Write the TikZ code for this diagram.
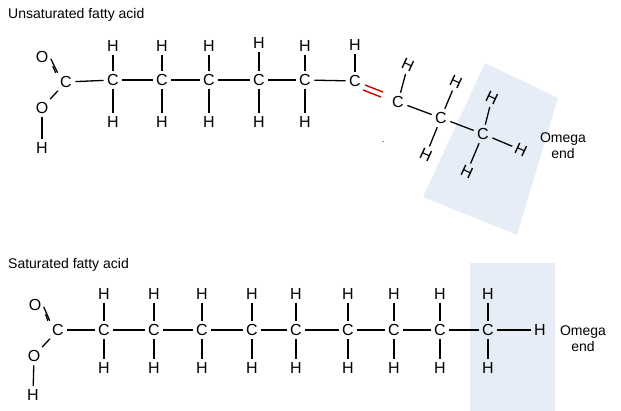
\documentclass[tikz,border=0pt]{standalone}
\usepackage{fontspec}
\setmainfont{Liberation Sans}
\definecolor{boxblue}{RGB}{231,237,246}
\begin{document}
\begin{tikzpicture}[x=1pt,y=-1pt,
  atom/.style={inner sep=1.5pt,font=\fontsize{16}{17}\selectfont},
  lbl/.style={inner sep=0pt,font=\fontsize{14}{16}\selectfont,align=center},
  bond/.style={line width=1.3pt,shorten >=2pt,shorten <=2pt}]
\useasboundingbox (0,0) rectangle (621,411);
\fill[boxblue] (423,197)--(485,63)--(558,98)--(517,235)--cycle;
\fill[boxblue] (470,263) rectangle (555,411);
\node[lbl,anchor=west] (t1) at (8,15) {Unsaturated fatty acid};
\node[lbl,anchor=west] (t2) at (8,265) {Saturated fatty acid};
% top molecule
\node[atom] (ca) at (66,82) {C};
\node[atom] (o1) at (42,57) {O};
\node[atom] (o2) at (42,108) {O};
\node[atom] (h0) at (42,148) {H};
\draw[bond] ([xshift=-2pt]ca.north west) -- ([xshift=2pt]o1.south east);
\draw[bond] (ca.north west) -- (o1.east);
\draw[bond] (ca) -- (o2);
\draw[bond] (o2) -- (h0);
\foreach \i/\x/\yt in {1/113/46,2/162/46,3/209/46,4/259/43,5/305/46}{
  \node[atom] (c\i) at (\x,80) {C};
  \node[atom] (ht\i) at (\x,\yt) {H};
  \node[atom] (hb\i) at (\x,122) {H};
  \draw[bond] (c\i) -- (ht\i);
  \draw[bond] (c\i) -- (hb\i);
}
\node[atom] (c6) at (355,81) {C};
\node[atom] (ht6) at (355,45) {H};
\draw[bond] (c6) -- (ht6);
\draw[bond] (ca) -- (c1);
\foreach \a/\b in {1/2,2/3,3/4,4/5,5/6}{\draw[bond] (c\a) -- (c\b);}
\node[atom] (c7) at (398,102) {C};
\node[atom] (c8) at (441,118) {C};
\node[atom] (c9) at (483,134) {C};
\draw[red!80!black,line width=1.4pt] (365,85)--(383,92) (363,90)--(381,97);
\node[atom,rotate=-25] (h7) at (408,65) {H};
\node[atom,rotate=-25] (h8a) at (456,82) {H};
\node[atom,rotate=-25] (h8b) at (426,155) {H};
\node[atom,rotate=-25] (h9a) at (492,98) {H};
\node[atom,rotate=-25] (h9b) at (521,150) {H};
\node[atom,rotate=-25] (h9c) at (467,172) {H};
\draw[bond] (c7) -- (h7);
\draw[bond] (c7) -- (c8);
\draw[bond] (c8) -- (c9);
\draw[bond] (c8) -- (h8a);
\draw[bond] (c8) -- (h8b);
\draw[bond] (c9) -- (h9a);
\draw[bond] (c9) -- (h9b);
\draw[bond] (c9) -- (h9c);
\node[lbl] (om1) at (563,146) {Omega\\end};
\node[inner sep=0pt,font=\small] (dot) at (383,142) {.};
% bottom molecule
\node[atom] (da) at (58,330) {C};
\node[atom] (p1) at (35,305) {O};
\node[atom] (p2) at (34,356) {O};
\node[atom] (g0) at (33,395) {H};
\draw[bond] ([xshift=-2pt]da.north west) -- ([xshift=2pt]p1.south east);
\draw[bond] (da.north west) -- (p1.east);
\draw[bond] (da) -- (p2);
\draw[bond] (p2) -- (g0);
\foreach \i/\x in {1/104,2/154,3/202,4/252,5/296,6/348,7/394,8/440,9/488}{
  \node[atom] (d\i) at (\x,330) {C};
  \node[atom] (gt\i) at (\x,294) {H};
  \node[atom] (gb\i) at (\x,368) {H};
  \draw[bond] (d\i) -- (gt\i);
  \draw[bond] (d\i) -- (gb\i);
}
\draw[bond] (da) -- (d1);
\foreach \a/\b in {1/2,2/3,3/4,4/5,5/6,6/7,7/8,8/9}{\draw[bond] (d\a) -- (d\b);}
\node[atom] (gend) at (540,330) {H};
\draw[bond] (d9) -- (gend);
\node[lbl] (om2) at (583,339) {Omega\\end};
\end{tikzpicture}
\end{document}
